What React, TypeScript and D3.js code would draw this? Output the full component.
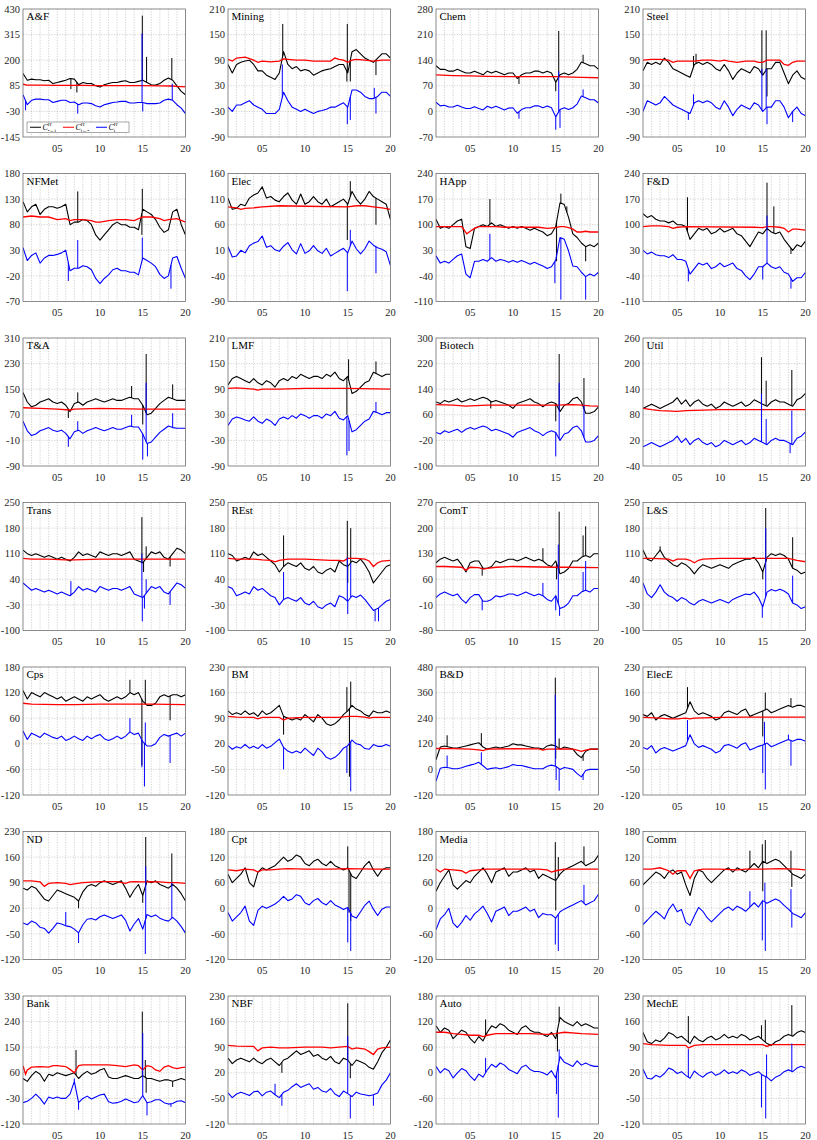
import * as d3 from "d3";
import { useEffect, useRef } from "react";

// panel order: row by row, 4 per row
const panelNames = ["A&F", "Mining", "Chem", "Steel", "NFMet", "Elec", "HApp", "F&D", "T&A", "LMF", "Biotech", "Util", "Trans", "REst", "ComT", "L&S", "Cps", "BM", "B&D", "ElecE", "ND", "Cpt", "Media", "Comm", "Bank", "NBF", "Auto", "MechE"];
const tickTop = [430, 210, 280, 210, 180, 160, 240, 240, 310, 210, 300, 260, 250, 250, 270, 250, 180, 230, 480, 230, 230, 180, 180, 180, 330, 230, 180, 230];
const tickStep = [115, 60, 70, 60, 50, 50, 70, 70, 80, 60, 80, 60, 70, 70, 70, 70, 60, 70, 120, 70, 70, 60, 60, 60, 90, 70, 60, 70];
const xTickYears = [5, 10, 15, 20];
const sampleYears = d3.range(1, 20.01, 0.5); // years since 2000, every half year

// C_{.<-i} (black), read every half year
const blackLines = [
  [140,110,115,112,112,108,110,95,100,105,110,118,115,90,100,95,95,85,80,90,95,100,100,105,108,100,100,105,110,100,90,88,95,110,120,110,85,60,45], // A&F
  [80,60,80,85,88,90,80,65,65,55,50,45,60,110,80,70,75,65,68,65,55,60,65,68,70,75,80,80,60,110,115,105,95,90,85,95,105,105,95], // Mining
  [125,115,115,110,110,115,110,105,105,110,105,100,110,105,110,105,100,105,105,90,100,105,105,110,110,105,110,105,80,100,105,100,105,115,135,130,125,125,115], // Chem
  [65,85,80,85,80,95,85,70,65,60,55,50,80,85,80,85,80,70,65,80,65,45,60,70,65,60,75,70,55,70,70,85,85,60,35,55,65,50,45], // Steel
  [125,105,115,120,100,110,115,115,112,115,120,80,85,85,90,88,80,60,50,60,70,80,85,80,80,75,75,70,110,105,100,90,75,65,70,105,110,80,60], // NFMet
  [112,90,92,100,97,112,118,122,134,112,115,108,105,115,122,108,100,120,100,105,115,105,100,110,95,100,105,110,100,125,110,100,110,125,115,110,105,100,70], // Elec
  [115,90,95,90,100,110,115,40,35,90,95,100,95,105,95,100,95,90,95,90,95,90,85,90,85,80,70,75,95,160,155,120,75,65,50,40,45,40,50], // HApp
  [130,120,125,115,110,110,105,110,100,100,95,60,75,90,85,90,75,80,90,80,85,90,75,70,55,40,60,80,75,90,80,75,80,60,45,30,45,40,55], // F&D
  [140,110,95,100,110,115,120,110,105,110,100,80,105,110,100,110,115,120,115,110,115,120,115,115,120,125,120,120,100,70,75,90,105,115,125,120,115,115,115], // T&A
  [100,115,120,115,110,105,115,105,100,110,105,95,110,115,110,120,115,125,120,115,120,120,115,125,120,130,115,110,120,80,85,95,105,110,130,125,120,125,125], // LMF
  [100,95,105,100,105,110,100,105,110,105,110,115,110,100,105,100,95,90,80,95,100,105,110,100,95,85,95,100,95,70,90,95,110,115,100,65,65,70,85], // Biotech
  [95,100,105,100,95,100,105,110,120,105,115,100,110,115,105,100,105,95,100,110,105,100,105,110,100,105,115,110,105,100,110,115,110,110,105,100,115,120,130], // Util
  [120,110,105,110,105,100,105,100,95,100,95,90,100,115,105,110,105,100,115,110,105,110,110,105,110,115,95,90,85,100,115,110,115,100,95,110,125,120,110], // Trans
  [110,105,90,95,100,95,115,105,110,100,90,80,60,75,85,80,75,85,70,65,75,60,55,65,70,60,90,80,75,90,85,95,80,60,30,45,60,75,80], // REst
  [105,115,120,115,110,115,100,80,105,110,110,90,90,95,110,105,110,115,115,110,115,120,115,110,115,110,100,95,110,75,80,90,110,110,120,125,120,130,130], // ComT
  [120,95,90,105,120,100,90,80,75,85,80,70,55,70,80,75,70,75,80,75,70,80,85,90,95,95,100,85,60,100,110,105,110,105,95,70,65,55,60], // L&S
  [125,105,120,115,110,120,115,110,105,110,100,105,110,105,100,110,105,110,115,105,100,105,110,105,110,120,115,120,100,90,90,95,110,115,110,115,115,110,115], // Cps
  [110,100,105,100,110,100,105,95,110,100,105,115,125,95,90,85,90,85,100,90,80,100,90,75,70,75,85,100,110,125,115,110,100,95,110,105,105,110,105], // BM
  [45,105,110,105,100,100,105,110,115,120,125,105,95,100,105,100,105,110,120,115,115,110,105,100,100,95,110,115,110,95,105,100,95,70,55,85,95,95,95], // B&D
  [100,95,105,85,95,100,95,90,95,100,105,135,110,100,105,100,95,85,90,105,110,105,100,110,115,95,100,105,110,115,105,110,115,120,125,120,125,125,120], // ElecE
  [75,70,80,75,60,45,40,55,70,65,60,55,50,40,65,80,85,80,90,95,90,85,90,95,75,50,70,85,55,95,90,95,85,80,75,85,75,60,40], // ND
  [80,60,70,80,95,60,50,85,95,90,95,100,110,120,110,115,125,120,105,100,110,115,105,100,110,100,95,90,95,75,70,85,100,110,90,75,90,95,95], // Cpt
  [40,60,75,90,55,45,55,65,60,75,85,95,80,60,85,90,95,75,85,85,90,95,85,90,70,80,75,70,65,80,90,95,100,105,110,100,105,110,125], // Media
  [55,65,75,85,80,70,85,90,80,85,55,30,70,90,85,70,60,70,80,90,95,85,95,90,85,95,105,95,110,105,110,115,110,100,90,80,75,70,80], // Comm
  [40,30,50,65,55,30,55,50,60,55,50,55,60,40,55,65,55,60,70,75,45,40,40,45,50,45,40,40,50,40,40,35,30,35,35,30,35,40,35], // Bank
  [60,45,55,60,55,50,60,50,45,55,60,50,40,55,60,70,80,70,75,80,65,70,60,55,65,50,45,60,55,40,55,50,45,35,30,50,75,90,110], // NBF
  [110,95,105,100,80,90,100,95,80,70,85,75,95,110,105,115,110,100,95,90,105,110,100,95,95,90,85,95,80,130,120,115,110,120,110,115,110,105,105], // Auto
  [130,105,100,110,105,115,130,125,115,120,110,100,120,110,105,115,120,110,115,125,115,120,115,125,120,110,115,120,110,100,95,105,110,120,125,120,130,135,130], // MechE
];

// C_i (blue), read every half year
const blueLines = [
  [45,0,20,25,25,22,22,10,15,20,20,10,12,0,8,8,5,-5,-10,0,5,10,12,15,15,8,8,10,10,5,5,5,8,20,25,20,0,-15,-40],
  [-20,-30,-15,-15,-10,-5,-15,-20,-25,-35,-35,-35,-25,15,-5,-20,-25,-30,-25,-30,-35,-30,-28,-25,-20,-20,-15,-10,-20,20,20,15,5,0,0,5,15,15,5],
  [25,15,17,12,12,17,12,8,8,13,8,4,14,9,14,9,4,9,10,-5,5,10,10,15,15,10,15,10,-15,5,10,5,10,20,42,37,32,32,23],
  [-30,-5,-10,-15,-10,5,-5,-15,-20,-25,-30,-35,-10,-5,-10,-5,-10,-20,-25,-5,-20,-40,-25,-15,-20,-25,-10,-15,-30,-20,-20,-5,-5,-20,-45,-30,-20,-35,-40],
  [35,10,20,25,5,15,20,20,22,25,30,-10,-5,-5,0,-2,-8,-25,-35,-25,-18,-8,-5,-10,-10,-13,-13,-18,15,10,5,-2,-17,-25,-20,15,18,-5,-25],
  [17,-3,-1,10,5,19,24,27,38,16,19,11,8,18,25,11,3,23,4,9,19,9,4,14,-1,4,9,14,5,28,13,3,13,28,20,15,12,7,-20],
  [15,-5,0,-5,5,15,20,-35,-45,0,0,5,0,10,0,5,2,-3,2,-3,2,-3,-8,-3,-8,-13,-20,-15,3,65,60,28,-13,-15,-30,-42,-35,-40,-30],
  [30,20,25,18,15,15,10,18,5,5,0,-35,-20,-5,-10,-5,-20,-15,-5,-15,-10,-5,-20,-25,-40,-50,-35,-15,-15,-5,-15,-20,-15,-30,-35,-55,-45,-45,-30],
  [50,20,5,10,20,25,30,22,18,22,12,-5,17,22,12,20,25,30,25,20,25,30,25,25,30,35,32,32,10,-20,-15,0,15,25,35,30,28,28,28],
  [5,20,25,22,18,15,25,15,10,20,15,5,20,25,20,28,22,32,28,22,28,28,22,32,28,38,22,18,28,-10,-5,5,15,20,38,35,30,35,35],
  [5,0,10,5,10,15,5,15,20,15,20,25,20,10,15,10,5,0,-10,5,10,15,20,10,5,-5,5,10,5,-20,0,5,20,25,10,-25,-25,-20,-5],
  [5,10,15,10,5,10,15,20,30,15,25,10,20,25,15,10,15,5,10,20,15,10,15,20,10,15,25,20,15,10,20,25,20,20,15,10,25,30,40],
  [30,20,10,15,10,5,10,5,0,5,0,-5,5,20,10,15,10,5,20,15,10,15,15,10,15,20,0,-5,-10,5,20,15,20,5,0,15,30,25,15],
  [20,15,-5,0,5,0,20,10,15,5,-5,-10,-30,-15,-10,-15,-20,-10,-25,-30,-20,-35,-40,-30,-25,-35,-5,-10,-20,-5,-10,-3,-15,-30,-45,-40,-30,-20,-15],
  [10,20,25,20,15,20,5,-5,10,18,18,0,0,5,15,12,15,20,20,15,20,25,20,15,20,15,5,0,15,-20,-15,-5,15,15,25,30,25,35,35],
  [30,0,-10,5,25,5,-5,-10,-20,-10,-15,-25,-30,-20,-15,-20,-25,-20,-15,-20,-25,-15,-10,-5,0,-2,5,-10,-35,5,12,8,13,8,0,-25,-30,-40,-35],
  [30,10,25,20,15,25,20,15,12,18,8,12,18,12,8,18,12,18,22,12,8,12,18,12,18,28,22,25,5,-5,-5,0,15,22,18,22,25,18,25],
  [15,5,12,8,18,8,13,7,18,8,13,23,33,10,0,-5,0,-5,8,-2,-12,8,-2,-17,-22,-17,-7,8,15,30,20,17,7,5,18,13,13,18,13],
  [-55,5,10,8,3,3,8,15,20,25,33,17,0,5,8,3,8,13,23,18,18,13,8,3,3,3,15,20,15,0,9,5,0,-20,-35,-5,0,0,0],
  [10,5,15,-5,5,10,5,0,5,10,15,45,20,10,15,10,5,-5,0,15,18,13,8,18,23,3,8,13,17,22,12,17,22,27,32,27,32,32,27],
  [-20,-25,-15,-20,-32,-35,-48,-35,-20,-23,-28,-30,-37,-47,-25,-10,-8,-12,-3,2,-3,-8,-3,2,-13,-42,-23,-8,-37,3,-3,2,-7,-12,-15,-5,-15,-30,-48],
  [-10,-30,-20,-10,5,-30,-40,-5,5,0,5,10,18,28,18,22,32,28,13,8,18,23,13,8,18,8,3,-3,2,-18,-23,-8,7,17,-2,-17,-2,3,3],
  [-50,-25,-15,0,-35,-45,-33,-17,-28,-13,-5,5,-12,-32,-7,-2,3,-17,-7,-7,-2,3,-7,-2,-22,-12,-15,-15,-23,-8,-2,3,8,13,18,8,13,18,33],
  [-38,-28,-17,-7,-15,-25,-3,10,-8,-3,-33,-40,-18,2,-7,-22,-32,-22,-12,-2,3,-5,5,0,-7,3,13,3,18,12,17,22,17,7,-2,-12,-17,-22,-10],
  [-45,-40,-30,-15,-30,-50,-25,-30,-25,-30,-30,-15,30,-45,-30,-22,-32,-25,-18,-15,-42,-47,-45,-40,-32,-38,-45,-42,-20,-45,-42,-35,-35,-45,-50,-48,-40,-38,-45],
  [-35,-48,-38,-33,-37,-42,-32,-30,-43,-33,-30,-40,-48,-33,-28,-18,-10,-20,-15,-10,-25,-20,-30,-33,-23,-38,-45,-30,-37,-45,-33,-38,-40,-43,-40,-35,-13,0,20],
  [15,0,10,5,-12,0,10,5,-8,-18,-3,-10,7,20,13,23,18,8,3,-2,13,18,8,3,3,0,-5,5,-12,38,25,20,15,28,18,23,18,15,15],
  [30,5,3,13,8,18,33,28,18,23,13,5,25,15,8,18,23,13,18,28,18,23,18,28,23,13,18,23,13,8,-2,8,13,23,28,23,33,38,33],
];

// C_{i<-.} (red), [year since 2000, value] knots
const redKnots = [
  [[1,92],[1.5,88],[3,88],[5,87],[8,87],[10,86],[15,86],[17,85],[18.5,84],[19,82],[20,80]],
  [[1,92],[1.5,88],[2,95],[3,97],[4,90],[4.5,85],[5,88],[6,86],[7,88],[7.5,93],[8,92],[9,90],[10,90],[11,88],[13,88],[13.5,95],[14,92],[14.5,90],[15,85],[15.5,90],[16,92],[17,90],[18,88],[19,90],[20,90]],
  [[1,100],[3,98],[5,97],[7,96],[10,95],[15,95],[18,93],[20,92]],
  [[1,90],[2,92],[3,92],[4,90],[4.5,85],[5,88],[7,88],[8,90],[9,90],[10,88],[10.5,90],[11,88],[12,85],[13,88],[14,88],[14.5,85],[15,85],[15.5,90],[17,90],[17.5,80],[18,78],[18.5,85],[19,88],[20,88]],
  [[1,95],[2,97],[3,95],[4,95],[5,90],[6,92],[6.5,88],[7,90],[8,90],[9,88],[9.5,85],[10,85],[11,88],[12,90],[13,90],[14,88],[15,95],[16,95],[17,92],[17.5,88],[18,90],[19,92],[20,85]],
  [[1,95],[2,93],[2.5,90],[3,92],[4,93],[5,95],[7,97],[10,96],[15,95],[16,97],[17,97],[18,95],[19,93],[20,90]],
  [[1,95],[4,95],[4.3,85],[4.6,75],[5,82],[5.5,90],[6,95],[8,95],[9,93],[13,93],[14,90],[15,92],[15.5,95],[16,95],[16.5,92],[17,88],[17.5,80],[18,80],[18.5,82],[19,80],[20,80]],
  [[1,95],[2,97],[3,97],[4,95],[4.5,90],[5,93],[6,95],[14,93],[15,92],[15.5,95],[16,95],[17,93],[17.5,90],[18,80],[18.5,88],[19,88],[20,85]],
  [[1,92],[3,90],[5,88],[6.5,85],[7,88],[10,90],[15,88],[20,88]],
  [[1,92],[2,93],[4,90],[4.5,88],[5,90],[7,90],[10,92],[15,92],[20,90]],
  [[1,92],[3,90],[4.5,87],[5,88],[7,90],[13,90],[15,90],[17,92],[18,90],[19,88],[20,87]],
  [[1,95],[2,92],[3,90],[5,88],[6,90],[10,92],[20,92]],
  [[1,97],[2,95],[4,95],[6,93],[7,93],[10,95],[15,95],[20,95]],
  [[1,97],[2,95],[4,95],[5,93],[6,92],[6.5,88],[7,92],[8,95],[10,95],[13,92],[14,92],[14.5,90],[15,97],[16,97],[17,95],[17.5,90],[18,75],[18.5,85],[19,90],[20,92]],
  [[1,95],[2,95],[4,93],[4.5,85],[5,93],[6,92],[6.5,88],[7,90],[8,93],[10,95],[15,93],[16,93],[20,92]],
  [[1,97],[2,97],[4,95],[4.5,90],[5,95],[6,95],[6.5,92],[7,85],[7.5,92],[8,95],[10,97],[18,97],[19,92],[20,88]],
  [[1,95],[2,93],[5,92],[7,92],[10,93],[16,93],[20,92]],
  [[1,95],[2,93],[4,92],[4.5,88],[5,92],[7,92],[7.5,85],[8,90],[10,92],[14,92],[15,95],[16,95],[17,93],[17.5,90],[18,92],[20,92]],
  [[1,98],[3,97],[5,95],[6,92],[6.5,88],[7,95],[10,97],[13,96],[13.5,90],[14,95],[16,96],[17,95],[17.5,90],[18,85],[18.5,90],[19,95],[20,95]],
  [[1,92],[3,90],[4,88],[5,88],[6,90],[6.5,88],[7,90],[10,92],[13,93],[20,93]],
  [[1,95],[2,95],[3,92],[3.5,80],[4,88],[5,90],[6,88],[6.5,85],[7,87],[8,90],[10,93],[12,93],[13,88],[13.5,92],[14,93],[15,92],[16,93],[17,92],[18,90],[19,90],[20,88]],
  [[1,90],[2,88],[3,92],[4,90],[4.5,85],[5,90],[6,90],[7,92],[8,93],[10,92],[13,92],[15,93],[18,92],[20,92]],
  [[1,92],[1.5,85],[2,92],[3,90],[4,88],[4.5,82],[5,88],[6,90],[7,92],[13,92],[14,90],[14.5,85],[15,88],[16,92],[20,92]],
  [[1,92],[2,92],[3,95],[4,88],[4.5,80],[5,88],[6,88],[6.5,70],[7,88],[8,92],[10,92],[12,90],[13,92],[15,92],[17,93],[19,92],[20,90]],
  [[1,85],[1.3,55],[1.5,70],[2,80],[3,82],[4,80],[4.5,85],[5,85],[6,82],[6.5,72],[7,60],[7.5,85],[8,88],[11,88],[12,85],[13,82],[14,88],[14.5,85],[15,70],[15.5,85],[16,82],[16.5,70],[17,65],[17.5,80],[18,85],[18.5,78],[19,75],[19.5,78],[20,80]],
  [[1,95],[2,93],[4,92],[4.5,80],[5,88],[6,90],[7,88],[8,88],[10,90],[12,90],[13,88],[14,90],[15,92],[15.5,85],[16,88],[17,85],[17.5,78],[18,70],[18.5,85],[19,88],[20,90]],
  [[1,95],[2,95],[3,92],[4,90],[5,88],[6,88],[6.5,85],[7,88],[8,92],[12,92],[14,90],[15,92],[16,95],[18,92],[20,90]],
  [[1,100],[2,97],[4,95],[6,95],[6.3,88],[7,95],[8,97],[15,97],[15.5,92],[16,97],[20,97]],
];

// short spikes, [year since 2000, peak value]
const blackSpikes = [
  [[14.95,400],[15.45,215],[18.4,210],[7.3,55],[6.6,70]],
  [[7.4,175],[14.95,175],[14.9,40],[15.3,40],[18.3,55]],
  [[15.35,220],[15,55],[18.2,155],[10.7,75]],
  [[14.9,160],[15.4,160],[6.9,100],[7.2,105],[15.5,5]],
  [[7.4,145],[14.95,150],[14.9,60]],
  [[14.95,30],[15.3,145],[18.3,60]],
  [[7.3,170],[15.6,185],[16.3,150],[15.1,0],[18.5,0]],
  [[6.2,175],[15.5,215],[16.3,150],[18.3,20]],
  [[6.3,60],[7.4,140],[13.7,160],[15.4,260],[15,40],[18.5,165]],
  [[14.9,30],[15.1,160],[18.3,155]],
  [[15.4,250],[15,40],[18.3,175],[7.4,80]],
  [[14.85,215],[15.4,160],[18.4,185]],
  [[14.9,210],[15.1,60],[15.4,130],[18.2,75]],
  [[7.5,160],[14.95,200],[15.35,180],[15,30]],
  [[15.4,245],[13.5,145],[15.1,60],[18.2,180],[18.5,205],[6.4,70]],
  [[15.35,235],[15,40],[18.5,155],[3,130]],
  [[13.5,150],[15.3,150],[14.9,-50],[18.2,55]],
  [[14.9,175],[15.35,190],[15.2,-70],[7.5,45]],
  [[2.3,160],[6.3,170],[14.95,430],[15,50],[15.4,145],[18.2,40]],
  [[6.2,175],[15.3,160],[15,40],[18.3,145]],
  [[15.35,215],[18.4,170],[7.5,20],[15,35]],
  [[15,145],[15.15,-10],[15.35,-30]],
  [[14.95,155],[15.3,120],[15,-5],[18.3,145]],
  [[13.5,135],[14.95,150],[15.3,160],[18.3,135],[18.4,50],[15,40]],
  [[7.2,140],[14.95,275],[15.3,105],[15.4,-10],[18.5,10]],
  [[15,210],[15.3,5],[7.3,20]],
  [[6.8,125],[15.2,50],[15.4,155]],
  [[6.3,175],[14.85,150],[15.3,165],[18.4,205]],
];

const blueSpikes = [
  [[14.92,320],[15,-30],[7.4,-40],[18.45,95],[1.3,-25]],
  [[7.35,80],[14.95,-60],[15.3,-50],[18.3,-35],[18.1,25]],
  [[15,-50],[15.35,110],[10.7,-20],[18.2,60],[15.5,-45]],
  [[14.9,70],[15.4,70],[15.5,-60],[6.3,-50],[6.9,10],[18.5,-55]],
  [[7.4,50],[14.95,55],[18.3,-45],[6.3,-30]],
  [[14.95,-70],[15.3,50],[18.3,-35]],
  [[7.3,75],[14.9,-60],[15.6,-105],[18.5,-105]],
  [[6.3,-55],[15.5,125],[15,-50],[18.3,-75]],
  [[6.3,-30],[7.4,50],[13.7,70],[15,-70],[15.4,170],[15.55,-60],[18.5,75]],
  [[14.9,-65],[15.15,-55],[18.3,60]],
  [[15.4,160],[15,-70],[18.3,90]],
  [[14.85,130],[15.4,70],[18.4,90],[18.2,-10]],
  [[14.9,110],[14.95,-75],[15.4,40],[15.2,-40],[18.2,-30],[6.6,35]],
  [[7.5,60],[14.95,100],[15.35,85],[15,-55],[18.2,-75],[18.6,-75]],
  [[15.3,155],[15.45,-40],[15,-25],[13.5,50],[18.2,80],[18.5,110],[6.4,-25]],
  [[15.35,180],[14.95,-65],[18.5,50]],
  [[13.5,60],[15.3,50],[15.2,-100],[14.9,-55],[18.2,-45]],
  [[7.5,-50],[14.9,-60],[15.35,-110]],
  [[2.3,65],[6.3,80],[14.95,350],[15.05,-50],[15.4,-100],[18.2,-50]],
  [[6.2,85],[15,-60],[15.3,-105],[15.2,80],[18.3,-40],[18,45]],
  [[15.35,135],[15.3,-105],[18.4,90],[7.5,-75],[6,10]],
  [[15,-80],[15.35,-100]],
  [[14.95,-85],[15.3,-100],[18.3,55]],
  [[14.95,-75],[15.3,-100],[15.25,60],[18.3,45],[18.4,-45],[13.5,40]],
  [[15,200],[15.5,-90],[7.5,-70],[18.3,-60],[7,40]],
  [[15,120],[15.3,-105],[7.3,-70],[18,-70],[6.5,-10]],
  [[6.8,35],[15.1,-50],[15.3,-105],[15.4,55]],
  [[6.3,85],[14.85,-75],[15.35,-105],[15.45,70],[18.4,100]],
];

const legendLabels = ["\u2022\u2190i", "i\u2190\u2022", "i"];
const seriesColors = ["#000000", "#ff0000", "#0000ff"];

const W = 817;
const H = 1140;
const colLeft = [23, 228, 436, 643];
const pw = 162.5;
const ph = 128;
const font = "'Liberation Serif', 'Times New Roman', Times, serif";

export default function App() {
  const ref = useRef<SVGSVGElement>(null);

  useEffect(() => {
    const svg = d3.select(ref.current);
    svg.selectAll("*").remove();
    const defs = svg.append("defs");

    panelNames.forEach((name, p) => {
      const col = p % 4;
      const row = Math.floor(p / 4);
      const x0 = colLeft[col];
      const y0 = 9 + row * 164.5;
      const top = tickTop[p];
      const step = tickStep[p];
      const yTicks = d3.range(6).map((k) => top - k * step);

      const x = d3.scaleLinear().domain([1, 20]).range([0, pw]);
      const y = d3.scaleLinear().domain([top - 5 * step, top]).range([ph, 0]);

      defs.append("clipPath").attr("id", `clip${p}`)
        .append("rect").attr("width", pw).attr("height", ph);

      const g = svg.append("g").attr("transform", `translate(${x0},${y0})`);
      g.append("rect").attr("width", pw).attr("height", ph).attr("fill", "#fff");

      // dotted grid, one vertical line per year
      g.selectAll(".vg").data(d3.range(2, 20)).join("line")
        .attr("x1", (d) => x(d)).attr("x2", (d) => x(d))
        .attr("y1", 0).attr("y2", ph)
        .attr("stroke", "#b3b3b3").attr("stroke-width", 0.6).attr("stroke-dasharray", "1.2,1.4");
      g.selectAll(".hg").data(yTicks.slice(1, 5)).join("line")
        .attr("x1", 0).attr("x2", pw)
        .attr("y1", (d) => y(d)).attr("y2", (d) => y(d))
        .attr("stroke", "#b3b3b3").attr("stroke-width", 0.6).attr("stroke-dasharray", "1.2,1.4");

      const plot = g.append("g").attr("clip-path", `url(#clip${p})`);
      const line = d3.line<number[]>().x((d) => x(d[0])).y((d) => y(d[1]));

      const at = (vals: number[], t: number) => {
        const pos = (t - 1) / 0.5;
        const i = Math.max(0, Math.min(vals.length - 2, Math.floor(pos)));
        const f = pos - i;
        return vals[i] * (1 - f) + vals[i + 1] * f;
      };

      const drawSeries = (vals: number[], spikes: number[][], color: string) => {
        plot.append("path")
          .datum(sampleYears.map((t, i) => [t, vals[i]]))
          .attr("d", line).attr("fill", "none")
          .attr("stroke", color).attr("stroke-width", 1.1).attr("stroke-linejoin", "round");
        plot.selectAll(null).data(spikes).join("line")
          .attr("x1", (d) => x(d[0])).attr("x2", (d) => x(d[0]))
          .attr("y1", (d) => y(at(vals, d[0]))).attr("y2", (d) => y(d[1]))
          .attr("stroke", color).attr("stroke-width", 1);
      };

      drawSeries(blackLines[p], blackSpikes[p], seriesColors[0]);
      plot.append("path").datum(redKnots[p])
        .attr("d", line).attr("fill", "none")
        .attr("stroke", seriesColors[1]).attr("stroke-width", 1.3);
      drawSeries(blueLines[p], blueSpikes[p], seriesColors[2]);

      // frame
      g.append("rect").attr("width", pw).attr("height", ph)
        .attr("fill", "none").attr("stroke", "#6e6e6e").attr("stroke-width", 0.8);

      // tick labels
      g.selectAll(".yl").data(yTicks).join("text")
        .attr("x", -3).attr("y", (d) => y(d)).attr("dy", "0.35em")
        .attr("text-anchor", "end").attr("font-family", font).attr("font-size", 10.5)
        .attr("fill", "#262626").text((d) => String(d));
      g.selectAll(".xl").data(xTickYears).join("text")
        .attr("x", (d) => x(d)).attr("y", ph + 11).attr("dy", "0.35em")
        .attr("text-anchor", "middle").attr("font-family", font).attr("font-size", 10.5)
        .attr("fill", "#262626").text((d) => d3.format("02d")(d));

      g.append("text").attr("x", 3.5).attr("y", 11)
        .attr("font-family", font).attr("font-size", 11).attr("fill", "#000").text(name);

      if (p === 0) {
        const lg = g.append("g").attr("transform", `translate(4,${ph - 15})`);
        lg.append("rect").attr("width", 102).attr("height", 10.5)
          .attr("fill", "#fff").attr("stroke", "#6e6e6e").attr("stroke-width", 0.6);
        legendLabels.forEach((sub, k) => {
          const lx = 3 + k * 33;
          lg.append("line").attr("x1", lx).attr("x2", lx + 11)
            .attr("y1", 5.25).attr("y2", 5.25)
            .attr("stroke", seriesColors[k]).attr("stroke-width", 1);
          const t = lg.append("text").attr("x", lx + 12.5).attr("y", 8)
            .attr("font-family", font).attr("font-size", 8).attr("fill", "#000");
          t.append("tspan").attr("font-style", "italic").text("C");
          t.append("tspan").attr("font-style", "italic").attr("font-size", 5)
            .attr("dy", -3.6).text("H");
          t.append("tspan").attr("font-size", 5).attr("dx", -3.6).attr("dy", 5.4).text(sub);
        });
      }
    });
  }, []);

  return (
    <svg
      ref={ref}
      width={W}
      height={H}
      viewBox={`0 0 ${W} ${H}`}
      style={{ position: "absolute", left: 0, top: 0, background: "#fff" }}
    />
  );
}
